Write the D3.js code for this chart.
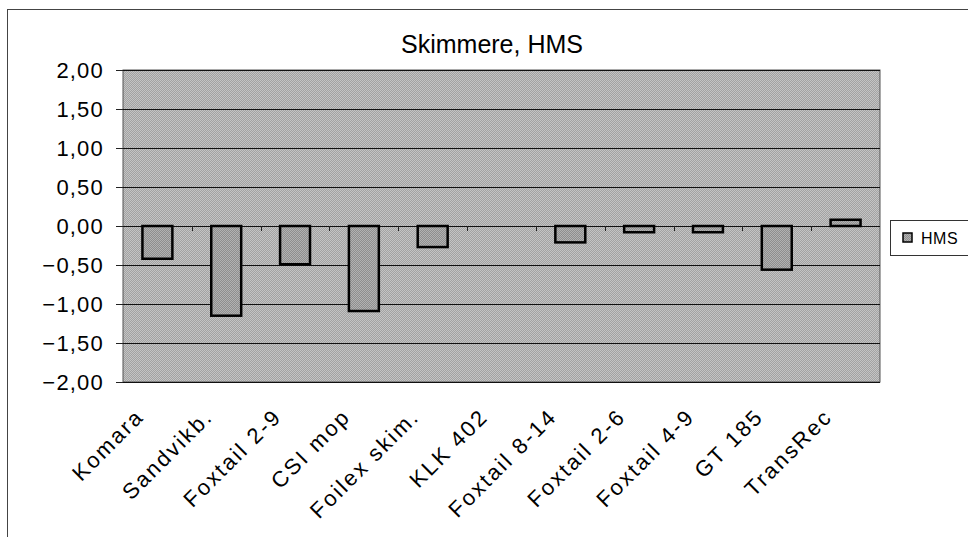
<!DOCTYPE html>
<html>
<head>
<meta charset="utf-8">
<script src="https://cdn.jsdelivr.net/npm/d3@7"></script>
<style>
  body { margin: 0; background: #fff; }
  text { font-family: "Liberation Sans", Arial, sans-serif; fill: #000; }
</style>
</head>
<body>
<svg id="chart" width="968" height="537"></svg>
<script>
// data
const categories = ['Komara', 'Sandvikb.', 'Foxtail 2-9', 'CSI mop', 'Foilex skim.', 'KLK 402',
  'Foxtail 8-14', 'Foxtail 2-6', 'Foxtail 4-9', 'GT 185', 'TransRec'];
const hms = [-0.42, -1.15, -0.49, -1.09, -0.27, 0, -0.21, -0.08, -0.08, -0.56, 0.08];
const yTicks = [2, 1.5, 1, 0.5, 0, -0.5, -1, -1.5, -2];
const seriesName = 'HMS';
const chartTitle = 'Skimmere, HMS';

const margin = {top: 70, left: 123, right: 88, bottom: 155};
const width = 968 - margin.left - margin.right;
const height = 537 - margin.top - margin.bottom;

const svg = d3.select('#chart');

// dither-like fills, like the scanned original
const defs = svg.append('defs');
function dither(id, a, b) {
  const p = defs.append('pattern')
    .attr('id', id)
    .attr('width', 2).attr('height', 2)
    .attr('patternUnits', 'userSpaceOnUse');
  p.append('rect').attr('width', 2).attr('height', 2).attr('fill', a);
  p.append('rect').attr('width', 1).attr('height', 1).attr('fill', b);
  p.append('rect').attr('x', 1).attr('y', 1).attr('width', 1).attr('height', 1).attr('fill', b);
}
dither('bg', '#c4c4c4', '#a2a2a2');
dither('barfill', '#b2b2b2', '#8e8e8e');

// outer chart frame
svg.append('rect')
  .attr('x', 7.5).attr('y', 9.5)
  .attr('width', 1000).attr('height', 600)
  .attr('fill', 'none')
  .attr('stroke', '#444')
  .attr('stroke-width', 1);

const g = svg.append('g')
  .attr('transform', 'translate(' + margin.left + ',' + margin.top + ')');

const x = d3.scaleBand()
  .domain(categories)
  .range([0, width])
  .paddingInner(0.565)
  .paddingOuter(0.2825);

const y = d3.scaleLinear()
  .domain([-2, 2])
  .range([height, 0]);

// plot background
g.append('rect')
  .attr('width', width)
  .attr('height', height)
  .attr('fill', 'url(#bg)')
  .attr('stroke', '#555')
  .attr('stroke-width', 1);

// gridlines
g.append('g')
  .selectAll('line')
  .data(yTicks)
  .enter().append('line')
  .attr('x1', 0).attr('x2', width)
  .attr('y1', d => Math.round(y(d)) + 0.5)
  .attr('y2', d => Math.round(y(d)) + 0.5)
  .attr('stroke', '#111')
  .attr('stroke-width', 1);

// y axis
g.append('g')
  .call(d3.axisLeft(y)
    .tickValues(yTicks)
    .tickSize(7)
    .tickPadding(12)
    .tickFormat(d => d3.format('.2f')(d).replace('.', ',')))
  .call(a => a.select('.domain').remove())
  .call(a => a.selectAll('line').attr('stroke', '#222'))
  .selectAll('text')
    .style('font-size', '22px')
    .style('letter-spacing', '1.2px')
    .attr('font-family', null);

// category tick marks on the zero line
const step = x.step();
g.append('g')
  .selectAll('line')
  .data(categories.slice(1))
  .enter().append('line')
  .attr('x1', (d, i) => Math.round(step * (i + 1)) + 0.5)
  .attr('x2', (d, i) => Math.round(step * (i + 1)) + 0.5)
  .attr('y1', y(0))
  .attr('y2', y(0) + 5)
  .attr('stroke', '#222');

// bars
g.append('g')
  .selectAll('rect')
  .data(hms)
  .enter().append('rect')
  .attr('x', (d, i) => x(categories[i]))
  .attr('width', x.bandwidth())
  .attr('y', d => y(Math.max(0, d)))
  .attr('height', d => Math.abs(y(d) - y(0)))
  .attr('fill', 'url(#barfill)')
  .attr('stroke', '#000')
  .attr('stroke-width', 2.5)
  .style('display', d => d === 0 ? 'none' : null);

// x labels, rotated
g.append('g')
  .selectAll('text')
  .data(categories)
  .enter().append('text')
  .attr('transform', d => 'translate(' + (x(d) + x.bandwidth() / 2 - 12) + ',' + (height + 36) + ') rotate(-45)')
  .attr('text-anchor', 'end')
  .style('font-size', '22px')
  .style('letter-spacing', '2.3px')
  .text(d => d);

// title
svg.append('text')
  .attr('x', 492)
  .attr('y', 53)
  .attr('text-anchor', 'middle')
  .style('font-size', '25px')
  .text(chartTitle);

// legend
const legend = svg.append('g').attr('transform', 'translate(890,220)');
legend.append('rect')
  .attr('x', 0.5).attr('y', 0.5)
  .attr('width', 90).attr('height', 35)
  .attr('fill', '#fff')
  .attr('stroke', '#333');
legend.append('rect')
  .attr('x', 13).attr('y', 13)
  .attr('width', 9).attr('height', 9)
  .attr('fill', 'url(#barfill)')
  .attr('stroke', '#000')
  .attr('stroke-width', 1.5);
legend.append('text')
  .attr('x', 31)
  .attr('y', 24)
  .style('font-size', '16px')
  .style('letter-spacing', '0.5px')
  .text(seriesName);
</script>
</body>
</html>
